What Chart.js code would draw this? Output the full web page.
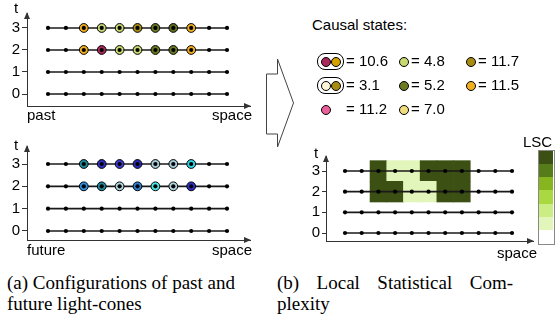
<!DOCTYPE html>
<html>
<head>
<meta charset="utf-8">
<script src="https://cdn.jsdelivr.net/npm/chart.js@4.4.1/dist/chart.umd.min.js"></script>
<style>
  body { margin: 0; width: 559px; height: 326px; background: #fff; position: relative; overflow: hidden;
         font-family: 'Liberation Sans', Arial, sans-serif; color: #000; }
  canvas { position: absolute; }
  .lbl { position: absolute; font-size: 15px; line-height: 18px; white-space: nowrap; }
  .mk { position: absolute; width: 10px; height: 10px; box-sizing: border-box; border: 1px solid #000; border-radius: 50%; }
  .pair { position: absolute; width: 27px; height: 17px; box-sizing: border-box; border: 1px solid #000; border-radius: 8px; }
  .cap { position: absolute; font-family: 'Liberation Serif', 'Times New Roman', serif; font-size: 19px; line-height: 21px; white-space: nowrap; }
  .band { position: absolute; left: 539px; width: 14px; }
</style>
</head>
<body>
<svg width="559" height="326" style="position:absolute;left:0;top:0">
  <polygon points="266.5,74 277.5,74 277.5,59 293.5,103 277.5,147 277.5,134 266.5,134"
           fill="none" stroke="#444" stroke-width="1"/>
</svg>

<canvas id="past" width="260" height="128" style="left:0;top:0"></canvas>
<canvas id="future" width="260" height="130" style="left:0;top:130px"></canvas>
<canvas id="lsc" width="279" height="130" style="left:280px;top:130px"></canvas>

<div class="lbl" style="left:14px;top:-1px">t</div>
<div class="lbl" style="left:27px;top:106px">past</div>
<div class="lbl" style="right:307px;top:106px">space</div>
<div class="lbl" style="left:14px;top:136px">t</div>
<div class="lbl" style="left:27px;top:241px">future</div>
<div class="lbl" style="right:307px;top:241px">space</div>
<div class="lbl" style="left:314px;top:144px">t</div>
<div class="lbl" style="right:22px;top:244px">space</div>
<div class="lbl" style="left:523px;top:133px">LSC</div>

<div class="lbl" style="left:312px;top:16px">Causal states:</div>

<div class="pair" style="left:317px;top:53px"></div>
<div class="mk" style="left:321px;top:57px;background:#a8285a"></div>
<div class="mk" style="left:331px;top:57px;background:#d4a200"></div>
<div class="lbl" style="left:346px;top:52px">= 10.6</div>
<div class="pair" style="left:317px;top:77px"></div>
<div class="mk" style="left:321px;top:81px;background:#fdf6d8"></div>
<div class="mk" style="left:331px;top:81px;background:#a88c12"></div>
<div class="lbl" style="left:346px;top:76px">= 3.1</div>
<div class="mk" style="left:321px;top:105px;background:#e8609a"></div>
<div class="lbl" style="left:346px;top:100px">= 11.2</div>

<div class="mk" style="left:399px;top:57px;background:#c8d872"></div>
<div class="lbl" style="left:411px;top:52px">= 4.8</div>
<div class="mk" style="left:399px;top:81px;background:#6b7a22"></div>
<div class="lbl" style="left:411px;top:76px">= 5.2</div>
<div class="mk" style="left:399px;top:105px;background:#f2dc80"></div>
<div class="lbl" style="left:411px;top:100px">= 7.0</div>

<div class="mk" style="left:466px;top:57px;background:#a88c12"></div>
<div class="lbl" style="left:478px;top:52px">= 11.7</div>
<div class="mk" style="left:466px;top:81px;background:#f2b01e"></div>
<div class="lbl" style="left:478px;top:76px">= 11.5</div>

<div id="colorbar"></div>

<div class="cap" style="left:7px;top:272px">(a) Configurations of past and<br>future light-cones</div>
<div class="cap" style="left:277px;top:272px;width:236px;display:flex;justify-content:space-between">
  <span>(b)</span><span>Local</span><span>Statistical</span><span>Com-</span>
</div>
<div class="cap" style="left:277px;top:293px">plexity</div>

<script>
// lattice: 11 sites in space, 4 time steps
const spaceSites = [0, 1, 2, 3, 4, 5, 6, 7, 8, 9, 10];
const timeSteps = [0, 1, 2, 3];

// sites carrying a light-cone marker (rows t=3 and t=2)
const coneSites = [2, 3, 4, 5, 6, 7, 8];
const pastT3Colors = ['#f2b01e', '#c8d872', '#c8d872', '#a88c12', '#6b7a22', '#5f6e1c', '#f2b01e'];
const pastT2Colors = ['#f2b01e', '#a8285a', '#c8d872', '#c8d872', '#6b7a22', '#6b7a22', '#f2b01e'];
const futureT3Colors = ['#1d8a9c', '#2f2fc0', '#3b3bd0', '#2a2ab8', '#a9cdd8', '#a9cdd8', '#2ed6e6'];
const futureT2Colors = ['#2e8fe0', '#1f8a9a', '#b0d4dc', '#2e7fd0', '#4ee6e6', '#b0d4dc', '#3030c8'];

// local statistical complexity, as level on the colour scale (0 = white ... 6 = darkest)
const lscSites = [2, 3, 4, 5, 6, 7];
const lscT3 = [6, 1, 1, 6, 6, 6];
const lscT2 = [6, 6, 1, 1, 6, 6];
const lscPalette = ['#ffffff', '#e2f5bb', '#cbee84', '#a9d840', '#86b520', '#577c1a', '#3b5012'];

Chart.defaults.font.family = "'Liberation Sans', Arial, sans-serif";
Chart.defaults.font.size = 15;
Chart.defaults.color = '#000';

const axisArrows = {
    id: 'axisArrows',
    afterDraw(chart) {
        const { ctx, chartArea: { left, right, top, bottom } } = chart;
        ctx.save();
        ctx.fillStyle = '#333';
        ctx.beginPath();
        ctx.moveTo(right + 1, bottom);
        ctx.lineTo(right - 6, bottom - 3);
        ctx.lineTo(right - 6, bottom + 3);
        ctx.fill();
        ctx.beginPath();
        ctx.moveTo(left, top - 1);
        ctx.lineTo(left - 3, top + 6);
        ctx.lineTo(left + 3, top + 6);
        ctx.fill();
        ctx.restore();
    },
};

const latticeDatasets = () => {
    const lines = timeSteps.map((t) => ({
        type: 'scatter',
        showLine: true,
        data: spaceSites.map((x) => ({ x, y: t })),
        borderColor: '#1a1a1a',
        borderWidth: 1.6,
        pointRadius: 0,
        order: 3,
    }));
    const dots = {
        type: 'scatter',
        data: timeSteps.flatMap((t) => spaceSites.map((x) => ({ x, y: t }))),
        pointRadius: 2.1,
        pointBackgroundColor: '#000',
        pointBorderWidth: 0,
        order: 1,
    };
    return { lines, dots };
};

const makeScales = (xMin, xMax, yMin, yMax, yWidth, xHeight, tickLen) => ({
    x: {
        type: 'linear', min: xMin, max: xMax, offset: false,
        ticks: { display: false },
        grid: { display: false, offset: false },
        border: { color: '#333', width: 1 },
        afterFit: (s) => { s.height = xHeight; },
    },
    y: {
        type: 'linear', min: yMin, max: yMax, offset: false,
        afterBuildTicks: (s) => { s.ticks = timeSteps.map((v) => ({ value: v })); },
        ticks: { padding: 2 },
        grid: { drawOnChartArea: false, drawTicks: true, tickLength: tickLen, color: '#333', offset: false },
        border: { color: '#333', width: 1 },
        afterFit: (s) => { s.width = yWidth; },
    },
});

const conePanel = (canvasId, t3Colors, t2Colors, yMin, yMax, padTop, axisBottom) => {
    const { lines, dots } = latticeDatasets();
    const cones = {
        type: 'scatter',
        data: [...coneSites.map((x) => ({ x, y: 3 })), ...coneSites.map((x) => ({ x, y: 2 }))],
        pointRadius: 4.4,
        pointBackgroundColor: [...t3Colors, ...t2Colors],
        pointBorderColor: '#000',
        pointBorderWidth: 1,
        order: 2,
    };
    const canvas = document.getElementById(canvasId);
    return new Chart(canvas, {
        type: 'scatter',
        data: { datasets: [...lines, cones, dots] },
        options: {
            responsive: false, animation: false, events: [],
            devicePixelRatio: 1,
            layout: { padding: { left: 0, top: padTop, right: 10, bottom: 0 } },
            plugins: { legend: { display: false }, tooltip: { enabled: false } },
            scales: makeScales(-1.173, 11.285, yMin, yMax, 27, canvas.height - axisBottom, 5),
        },
        plugins: [axisArrows],
    });
};

conePanel('past', pastT3Colors, pastT2Colors, -0.545, 3.68, 13, 106);
conePanel('future', futureT3Colors, futureT2Colors, -0.403, 3.806, 16, 110);

// panel (b): LSC field on the same lattice
const lscCanvas = document.getElementById('lsc');
const { lines, dots } = latticeDatasets();
const lscCells = {
    type: 'bar',
    data: [
        ...lscSites.map((x) => ({ x, y: [2.5, 3.5] })),
        ...lscSites.map((x) => ({ x, y: [1.5, 2.5] })),
    ],
    backgroundColor: [...lscT3, ...lscT2].map((l) => lscPalette[l]),
    barPercentage: 1,
    categoryPercentage: 1,
    borderWidth: 0,
    order: 4,
};
new Chart(lscCanvas, {
    type: 'scatter',
    data: { datasets: [...lines, dots, lscCells] },
    options: {
        responsive: false, animation: false, events: [],
        devicePixelRatio: 1,
        layout: { padding: { left: 19, top: 26, right: 26, bottom: 0 } },
        plugins: { legend: { display: false }, tooltip: { enabled: false } },
        scales: makeScales(-1.138, 11.257, -0.387, 3.726, 27, 19, 4),
    },
    plugins: [axisArrows],
});

// colour scale of the LSC, darkest on top
const colorbar = document.getElementById('colorbar');
const bandH = 92 / lscPalette.length;
[...lscPalette].reverse().forEach((c, i) => {
    const d = document.createElement('div');
    d.className = 'band';
    d.style.top = (151 + i * bandH) + 'px';
    d.style.height = (bandH + 0.5) + 'px';
    d.style.background = c;
    colorbar.appendChild(d);
});
const frame = document.createElement('div');
frame.style.cssText = 'position:absolute;left:538px;top:150px;width:15px;height:93px;border:1px solid #888;';
colorbar.appendChild(frame);
</script>
</body>
</html>
